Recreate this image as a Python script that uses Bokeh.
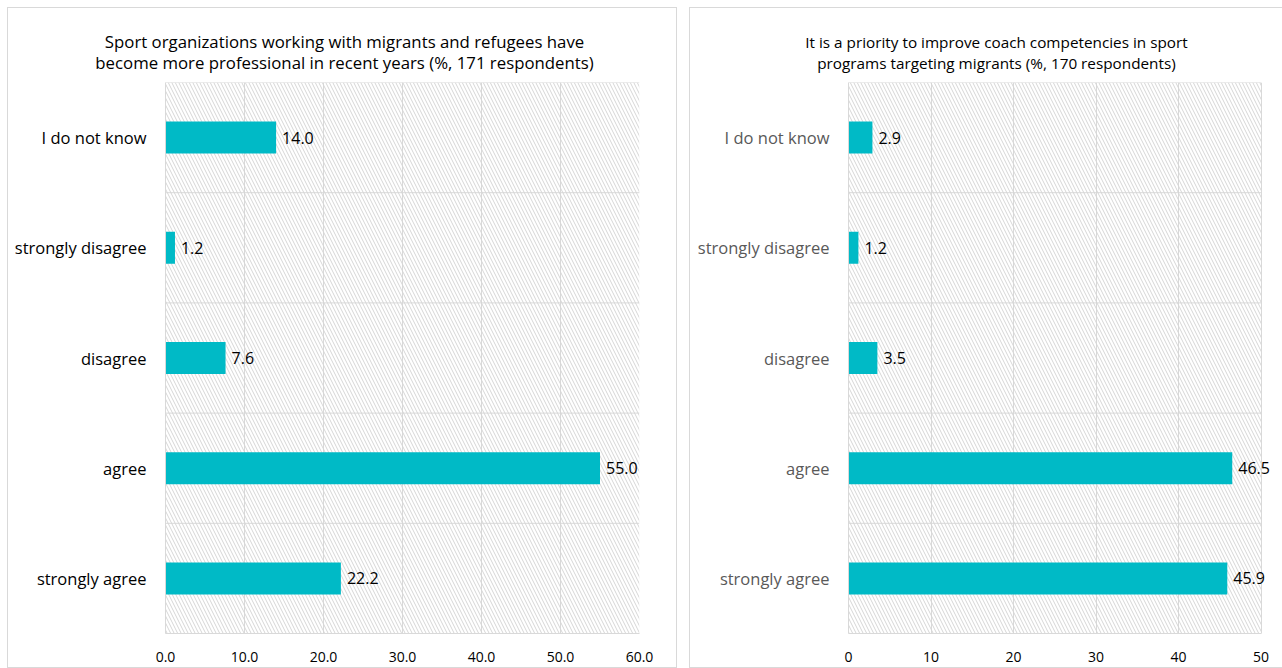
from bokeh.plotting import figure
from bokeh.models import (FactorRange, Range1d, ColumnDataSource, LabelSet,
                          BoxAnnotation, FixedTicker, PrintfTickFormatter)
from bokeh.core.properties import value
from bokeh.layouts import row, column
from bokeh.embed import file_html
from bokeh.resources import INLINE

categories = ["strongly agree", "agree", "disagree", "strongly disagree", "I do not know"]
values_left = [22.2, 55.0, 7.6, 1.2, 14.0]
values_right = [45.9, 46.5, 3.5, 1.2, 2.9]
title_left = ["Sport organizations working with migrants and refugees have",
              "become more professional in recent years (%, 171 respondents)"]
title_right = ["It is a priority to improve coach competencies in sport",
               "programs targeting migrants (%, 170 respondents)"]
ticks_left = [0, 10, 20, 30, 40, 50, 60]
ticks_right = [0, 10, 20, 30, 40, 50]

FONT = "Open Sans"
BAR = "#00BAC6"
GRID = "#d9d9d9"
TITLE_H = 74


def make_title(title_lines, width, cx, size):
    t = figure(width=width, height=TITLE_H, output_backend="svg", toolbar_location=None,
               x_range=Range1d(0, width), y_range=Range1d(TITLE_H, 0),
               min_border=0, outline_line_color=None, frame_align=False,
               x_axis_location=None, y_axis_location=None)
    t.grid.visible = False
    t.background_fill_color = "white"
    t.border_fill_color = "white"
    src = ColumnDataSource(dict(x=[cx] * len(title_lines),
                                y=[33 + 21 * i for i in range(len(title_lines))],
                                text=title_lines))
    t.text(x="x", y="y", text="text", source=src, text_align="center",
           text_baseline="middle", text_font=value(FONT), text_font_size=size,
           text_color="#000000")
    return t


def make_chart(values, ticks, fmt, width, bl, br, cat_color, overflow):
    src = ColumnDataSource(dict(cat=categories, val=values,
                                label=["%.1f" % v for v in values]))
    p = figure(width=width, height=659 - TITLE_H, output_backend="svg", toolbar_location=None,
               y_range=FactorRange(*categories, range_padding=0),
               x_range=Range1d(ticks[0], ticks[-1] + overflow),
               min_border_left=bl, min_border_right=br,
               min_border_top=0, min_border_bottom=34, frame_align=False)
    p.outline_line_color = None
    p.background_fill_color = "white"
    p.border_fill_color = "white"

    hatch = BoxAnnotation(left=ticks[0], right=ticks[-1], fill_alpha=0, line_color=None,
                          hatch_pattern="\\", hatch_color="#d6d6d6", hatch_scale=7,
                          hatch_weight=1, level="underlay")
    p.add_layout(hatch)

    p.xgrid.grid_line_color = GRID
    p.xaxis.ticker = FixedTicker(ticks=ticks)
    p.xaxis.formatter = PrintfTickFormatter(format=fmt)
    p.xaxis.bounds = (ticks[0], ticks[-1])
    p.ygrid.visible = False
    # category boundary lines (between and above categories), limited to the value axis extent
    bounds_y = list(range(1, len(categories) + 1))
    p.segment(x0=[ticks[0]] * len(bounds_y), x1=[ticks[-1]] * len(bounds_y),
              y0=bounds_y, y1=bounds_y, line_color=GRID, line_width=1, level="underlay")

    for ax in (p.xaxis, p.yaxis):
        ax.axis_line_color = GRID
        ax.major_tick_line_color = None
        ax.minor_tick_line_color = None
        ax.major_label_text_font = FONT
    p.xaxis.major_label_text_font_size = "14px"
    p.xaxis.major_label_text_color = "#000000"
    p.xaxis.major_label_standoff = 12
    p.yaxis.major_label_text_font_size = "16.5px"
    p.yaxis.major_label_text_color = cat_color
    p.yaxis.major_label_standoff = 13

    p.hbar(y="cat", left=0, right="val", height=0.29, source=src,
           fill_color=BAR, line_color=None)
    p.add_layout(LabelSet(x="val", y="cat", text="label", source=src, x_offset=6,
                          text_baseline="middle", text_font=value(FONT),
                          text_font_size="16px", text_color="#000000"))
    return p


t1 = make_title(title_left, 668, 336, "16.8px")
p1 = make_chart(values_left, ticks_left, "%.1f", 668, 157, 37, "#000000", 0)
t2 = make_title(title_right, 593, 306, "15.3px")
p2 = make_chart(values_right, ticks_right, "%d", 593, 158, 10, "#595959", 1.5)

c1 = column(t1, p1, spacing=0, margin=(7, 0, 0, 7), styles={"border": "1px solid #d9d9d9"})
c2 = column(t2, p2, spacing=0, margin=(7, 0, 0, 12), styles={"border": "1px solid #d9d9d9"})

layout = row(c1, c2)
open("out.html", "w").write(file_html(layout, INLINE))
